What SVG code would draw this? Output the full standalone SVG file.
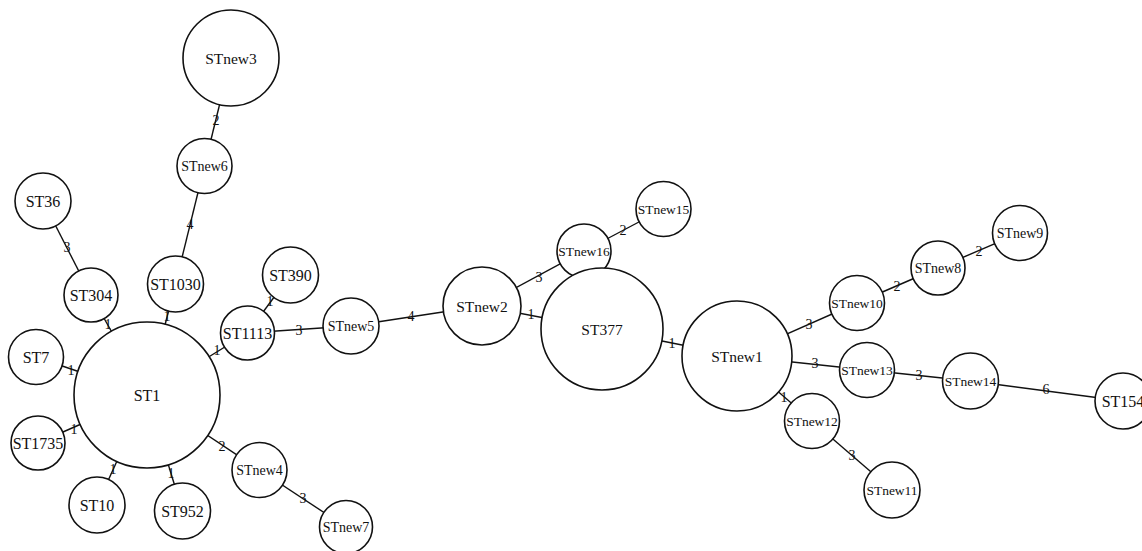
<svg xmlns="http://www.w3.org/2000/svg" width="1142" height="551" viewBox="0 0 1142 551">
<style>
.e{stroke:#111;stroke-width:1.4;fill:none}
.n circle{fill:#fff;stroke:#111;stroke-width:1.6}
.n text{font-family:"Liberation Serif","Times New Roman",serif;fill:#111;text-anchor:middle;dominant-baseline:central}
.s{font-size:16px}
.m{font-size:14px}
.d{font-size:13.5px}
.b{font-size:15.5px}
.l{font-family:"Liberation Serif","Times New Roman",serif;font-size:14px;fill:#111;text-anchor:middle;dominant-baseline:central}
</style>
<rect width="1142" height="551" fill="#fff"/>
<g id="connectors">
<line class="e" x1="231" y1="58" x2="204.5" y2="166"/>
<line class="e" x1="204.5" y1="166" x2="175.5" y2="284"/>
<line class="e" x1="43" y1="201" x2="91" y2="295"/>
<line class="e" x1="91" y1="295" x2="147" y2="395"/>
<line class="e" x1="175.5" y1="284" x2="147" y2="395"/>
<line class="e" x1="247.5" y1="333" x2="147" y2="395"/>
<line class="e" x1="247.5" y1="333" x2="290.5" y2="275"/>
<line class="e" x1="247.5" y1="333" x2="351" y2="326"/>
<line class="e" x1="36" y1="357" x2="147" y2="395"/>
<line class="e" x1="38" y1="443" x2="147" y2="395"/>
<line class="e" x1="97" y1="505" x2="147" y2="395"/>
<line class="e" x1="182.5" y1="511" x2="147" y2="395"/>
<line class="e" x1="147" y1="395" x2="259.5" y2="470"/>
<line class="e" x1="259.5" y1="470" x2="346" y2="527"/>
<line class="e" x1="351" y1="326" x2="482" y2="306"/>
<line class="e" x1="482" y1="306" x2="584" y2="251"/>
<line class="e" x1="584" y1="251" x2="663.5" y2="209"/>
<line class="e" x1="482" y1="306" x2="602" y2="329"/>
<line class="e" x1="602" y1="329" x2="737" y2="356"/>
<line class="e" x1="737" y1="356" x2="857" y2="303"/>
<line class="e" x1="857" y1="303" x2="938" y2="268"/>
<line class="e" x1="938" y1="268" x2="1020" y2="233"/>
<line class="e" x1="737" y1="356" x2="867" y2="370"/>
<line class="e" x1="867" y1="370" x2="970.5" y2="381"/>
<line class="e" x1="970.5" y1="381" x2="1123" y2="401"/>
<line class="e" x1="737" y1="356" x2="812" y2="421"/>
<line class="e" x1="812" y1="421" x2="892" y2="490"/>
<text class="l" x="216" y="120">2</text>
<text class="l" x="190" y="224">4</text>
<text class="l" x="67" y="247">3</text>
<text class="l" x="108" y="324">1</text>
<text class="l" x="167" y="316">1</text>
<text class="l" x="217" y="350">1</text>
<text class="l" x="270" y="301">1</text>
<text class="l" x="299" y="330">3</text>
<text class="l" x="71" y="370">1</text>
<text class="l" x="74" y="429">1</text>
<text class="l" x="113" y="469">1</text>
<text class="l" x="171" y="473">1</text>
<text class="l" x="222" y="446">2</text>
<text class="l" x="303" y="498">3</text>
<text class="l" x="411" y="316">4</text>
<text class="l" x="539" y="277">3</text>
<text class="l" x="623" y="230">2</text>
<text class="l" x="531" y="314">1</text>
<text class="l" x="672" y="343">1</text>
<text class="l" x="809" y="324">3</text>
<text class="l" x="897" y="286">2</text>
<text class="l" x="979" y="251">2</text>
<text class="l" x="815" y="363">3</text>
<text class="l" x="919" y="375">3</text>
<text class="l" x="1046" y="389">6</text>
<text class="l" x="784" y="397">1</text>
<text class="l" x="852" y="455">3</text>
</g>
<g id="STnew3" class="n"><circle cx="231" cy="58" r="48"/><text class="b" x="231" y="58">STnew3</text></g>
<g id="STnew6" class="n"><circle cx="204.5" cy="166" r="27.5"/><text class="m" x="204.5" y="166">STnew6</text></g>
<g id="ST36" class="n"><circle cx="43" cy="201" r="28"/><text class="s" x="43" y="201">ST36</text></g>
<g id="ST304" class="n"><circle cx="91" cy="295" r="27"/><text class="s" x="91" y="295">ST304</text></g>
<g id="ST1030" class="n"><circle cx="175.5" cy="284" r="28"/><text class="s" x="175.5" y="284">ST1030</text></g>
<g id="ST390" class="n"><circle cx="290.5" cy="275" r="28"/><text class="s" x="290.5" y="275">ST390</text></g>
<g id="ST1113" class="n"><circle cx="247.5" cy="333" r="27"/><text class="s" x="247.5" y="333">ST1113</text></g>
<g id="STnew5" class="n"><circle cx="351" cy="326" r="28"/><text class="m" x="351" y="326">STnew5</text></g>
<g id="ST7" class="n"><circle cx="36" cy="357" r="27.5"/><text class="s" x="36" y="357">ST7</text></g>
<g id="ST1" class="n"><circle cx="147" cy="395" r="73"/><text class="s" x="147" y="395">ST1</text></g>
<g id="ST1735" class="n"><circle cx="38" cy="443" r="27"/><text class="s" x="38" y="443">ST1735</text></g>
<g id="ST10" class="n"><circle cx="97" cy="505" r="28"/><text class="s" x="97" y="505">ST10</text></g>
<g id="ST952" class="n"><circle cx="182.5" cy="511" r="28"/><text class="s" x="182.5" y="511">ST952</text></g>
<g id="STnew4" class="n"><circle cx="259.5" cy="470" r="27.5"/><text class="m" x="259.5" y="470">STnew4</text></g>
<g id="STnew7" class="n"><circle cx="346" cy="527" r="26.5"/><text class="m" x="346" y="527">STnew7</text></g>
<g id="STnew2" class="n"><circle cx="482" cy="306" r="39"/><text class="b" x="482" y="306">STnew2</text></g>
<g id="STnew16" class="n"><circle cx="584" cy="251" r="27"/><text class="d" x="584" y="251">STnew16</text></g>
<g id="STnew15" class="n"><circle cx="663.5" cy="209" r="27.5"/><text class="d" x="663.5" y="209">STnew15</text></g>
<g id="ST377" class="n"><circle cx="602" cy="329" r="61"/><text class="b" x="602" y="329">ST377</text></g>
<g id="STnew1" class="n"><circle cx="737" cy="356" r="55"/><text class="b" x="737" y="356">STnew1</text></g>
<g id="STnew10" class="n"><circle cx="857" cy="303" r="27.5"/><text class="d" x="857" y="303">STnew10</text></g>
<g id="STnew8" class="n"><circle cx="938" cy="268" r="27"/><text class="m" x="938" y="268">STnew8</text></g>
<g id="STnew9" class="n"><circle cx="1020" cy="233" r="27.5"/><text class="m" x="1020" y="233">STnew9</text></g>
<g id="STnew13" class="n"><circle cx="867" cy="370" r="27.5"/><text class="d" x="867" y="370">STnew13</text></g>
<g id="STnew14" class="n"><circle cx="970.5" cy="381" r="28"/><text class="d" x="970.5" y="381">STnew14</text></g>
<g id="ST154" class="n"><circle cx="1123" cy="401" r="28"/><text class="s" x="1123" y="401">ST154</text></g>
<g id="STnew12" class="n"><circle cx="812" cy="421" r="27.5"/><text class="d" x="812" y="421">STnew12</text></g>
<g id="STnew11" class="n"><circle cx="892" cy="490" r="28"/><text class="d" x="892" y="490">STnew11</text></g>
</svg>
